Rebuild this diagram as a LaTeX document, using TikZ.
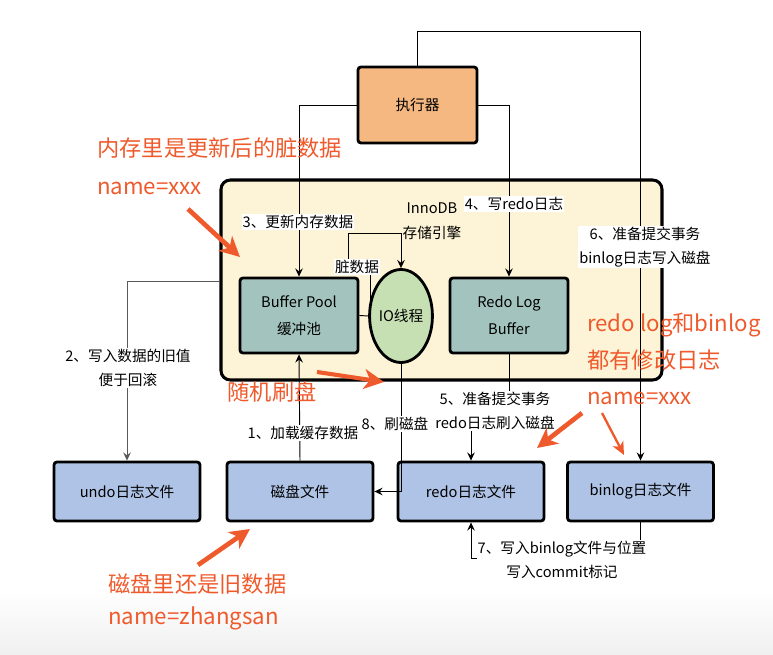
\documentclass[tikz,border=0pt]{standalone}
\usepackage{fontspec}
\setmainfont{Noto Sans CJK SC}
\usetikzlibrary{shapes,arrows.meta}
\definecolor{execfill}{HTML}{F5B880}
\definecolor{poolfill}{HTML}{A3C4BE}
\definecolor{iofill}{HTML}{C6E0B4}
\definecolor{filefill}{HTML}{AEC3E5}
\definecolor{innofill}{HTML}{FDF3D6}
\definecolor{notered}{HTML}{EF5A2C}

\begin{document}
\begin{tikzpicture}[x=0.03cm,y=-0.03cm,
  >={Stealth[length=7pt,width=6.5pt,inset=2.5pt]},
  box/.style={draw,line width=2.4pt,rounded corners=2.5pt,align=center,inner sep=0pt,font=\fontsize{12.5}{23}\selectfont},
  lbl/.style={fill=white,inner sep=0.8pt,align=center,font=\fontsize{12.5}{21}\selectfont},
  note/.style={text=notered,align=left,inner sep=0pt,anchor=north west},
  notearrow/.style={draw=notered,line width=4pt,-{Stealth[length=17pt,width=17pt,inset=5pt]}},
  link/.style={line width=0.8pt}]
  \useasboundingbox (0,0) rectangle (773,655);
  \fill[top color=white,bottom color=black!6] (0,590) rectangle (773,655);
  \node[box,fill=innofill,line width=2.6pt,rounded corners=8pt,minimum width=13.23cm,minimum height=6cm] (inno) at (441.5,280) {};
  \node[box,fill=execfill,minimum width=3.57cm,minimum height=2.28cm] (exec) at (417.5,105) {执行器};
  \node[box,fill=poolfill,minimum width=3.54cm,minimum height=2.25cm] (bp) at (299,315.5) {Buffer Pool\\缓冲池};
  \node[box,fill=poolfill,minimum width=3.54cm,minimum height=2.25cm] (rlb) at (509,315.5) {Redo Log\\Buffer};
  \node[draw,ellipse,line width=2.4pt,fill=iofill,minimum width=1.74cm,minimum height=2.79cm,inner sep=0pt,font=\fontsize{12.5}{15}\selectfont] (io) at (401,316) {IO线程};
  \node[box,fill=filefill,minimum width=4.38cm,minimum height=1.77cm] (undo) at (127,491.5) {undo日志文件};
  \node[box,fill=filefill,minimum width=4.38cm,minimum height=1.77cm] (disk) at (300,491.5) {磁盘文件};
  \node[box,fill=filefill,minimum width=4.38cm,minimum height=1.77cm] (redo) at (471,491.5) {redo日志文件};
  \node[box,fill=filefill,minimum width=4.38cm,minimum height=1.77cm] (binlog) at (640.5,491.5) {binlog日志文件};

  \coordinate (top) at (640.5,31);
  \coordinate (dirty) at (370,316);
  \draw[link,->] (exec.north) |- (top) -- (binlog.north);
  \draw[link,->] (exec.west) -| (bp.north);
  \draw[link,->] (exec.east) -| (rlb.north);
  \draw[link] (bp.east) -- (io.west);
  \draw[link,->] (dirty) -- (370,267) -- (348,267) -- (348,233) -| (io.north);
  \draw[link,->] (rlb.south) -- (509,410) -| (redo.north);
  \draw[link,->] (binlog.south) -- (640.5,558) -| (redo.south);
  \draw[link,->] (io.south) |- (disk.east);
  \draw[link,->] (disk.north) -- (bp.south);
  \draw[link,->,black!65] (inno.west |- 0,281) -| (undo.north);

  \node[lbl] (l1) at (303,433) {1、加载缓存数据};
  \node[lbl] (l2) at (128,368) {2、写入数据的旧值\\便于回滚};
  \node[lbl] (l3) at (298,222) {3、更新内存数据};
  \node[lbl] (l4) at (514,204) {4、写redo日志};
  \node[lbl] (l5) at (495,411) {5、准备提交事务\\redo日志刷入磁盘};
  \node[lbl] (l6) at (645,247) {6、准备提交事务\\binlog日志写入磁盘};
  \node[lbl] (l7) at (562,560) {7、写入binlog文件与位置\\写入commit标记};
  \node[lbl] (l8) at (395,424) {8、刷磁盘};
  \node[lbl] (dirtylbl) at (357,267) {脏数据};
  \node[lbl,fill=none] (engine) at (432,221) {InnoDB\\存储引擎};

  \node[note,font=\fontsize{19}{33}\selectfont] (memnote) at (97,137) {内存里是更新后的脏数据\\name=xxx};
  \node[note,anchor=center,font=\fontsize{19}{23}\selectfont] (flushnote) at (272,392) {随机刷盘};
  \node[note,font=\fontsize{19}{31}\selectfont] (lognote) at (587,313) {redo log和binlog\\都有修改日志\\name=xxx};
  \node[note,font=\fontsize{19}{28}\selectfont] (disknote) at (108,573) {磁盘里还是旧数据\\name=zhangsan};

  \coordinate (n1a) at (188,209);
  \coordinate (n1b) at (240,257);
  \coordinate (n2a) at (317,372);
  \coordinate (n2b) at (384,382);
  \coordinate (n3a) at (582,413);
  \coordinate (n3b) at (537,448);
  \coordinate (n4a) at (602,413);
  \coordinate (n4b) at (624,455);
  \coordinate (n5a) at (198,565);
  \coordinate (n5b) at (250,529);
  \draw[notearrow] (n1a) -- (n1b);
  \draw[notearrow,line width=3.5pt] (n2a) -- (n2b);
  \draw[notearrow] (n3a) -- (n3b);
  \draw[notearrow,line width=2pt,-{Stealth[length=11pt,width=10pt,inset=3pt]}] (n4a) -- (n4b);
  \draw[notearrow] (n5a) -- (n5b);
\end{tikzpicture}
\end{document}
